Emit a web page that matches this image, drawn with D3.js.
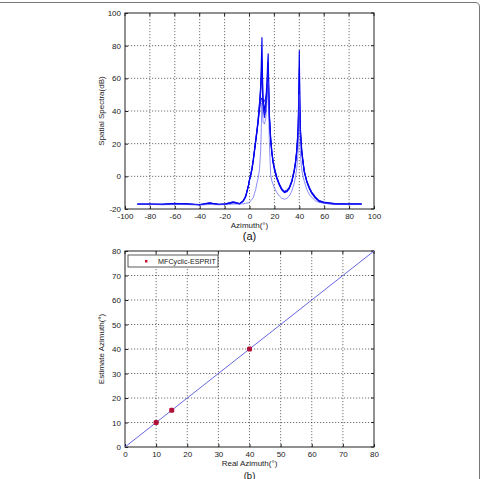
<!DOCTYPE html>
<html><head><meta charset="utf-8">
<script src="https://cdn.jsdelivr.net/npm/d3@7"></script>
<style>body{margin:0;background:#fff}svg{display:block}text{font-family:"Liberation Sans",Arial,sans-serif}</style>
</head><body>
<script>
// ---- Data (a): spatial spectra, several Monte-Carlo trials ----
const azimuth = [-90,-80,-70,-60,-50,-40,-32,-25,-20,-13,-8,-5,-3,-1,0,1,2,3,4,5,6,7,8,9,9.5,10,10.5,11,12,13,14,14.5,15,15.5,16,17,18,19,20,22,24,26,28,30,32,34,36,37,38,39,39.5,40,40.5,41,42,43,44,46,48,50,53,56,60,65,70,80,90];
const trial1 = [-17,-17,-17.2,-16.6,-16.9,-17.4,-16.3,-17.2,-17,-15.8,-16.8,-15,-12,-6,-2,1,5,10,16,22,28,35,44,56,70,85,60,48,40,45,58,68,75,55,38,24,15,9,5,-1,-5,-8,-9.5,-9,-7,-3,4,9,16,30,48,77,45,28,16,9,3,-3,-7,-10,-13,-15,-16,-16.5,-17,-17,-17];
const trial2 = [-17.2,-17.1,-17,-16.8,-17,-17.2,-16.6,-17,-17.1,-16,-16.6,-15.2,-12.5,-6.5,-2.5,0.5,4,9,15,21,27,34,42,52,62,70,50,42,36,40,50,58,64,48,35,22,14,8,4,-1.5,-5.5,-8.5,-10,-9.5,-7.5,-3.5,3,8,15,26,40,66,38,25,14,8,2.5,-3.5,-7.5,-10.5,-13.5,-15.5,-16.3,-16.8,-17,-17,-17];
const trial3 = [-17,-17.2,-17.1,-16.5,-17.1,-17.3,-16.1,-17.3,-16.9,-15.5,-16.7,-14.8,-11.8,-5.8,-1.8,1.2,5.5,10.5,16.5,23,29,36,45,54,60,62,48,44,38,43,55,62,70,52,37,23,15,9,5.5,-0.5,-4.5,-7.5,-9,-8.5,-6.5,-2.5,4.5,9.5,17,28,42,55,40,27,15.5,9.5,3.5,-2.5,-6.5,-9.5,-12.5,-14.8,-15.8,-16.2,-16.8,-17,-17];
const trial4 = [-17.1,-17,-17.3,-16.9,-16.8,-17.5,-16.4,-17.1,-17.2,-16.1,-16.9,-15.3,-12.2,-6.2,-2.2,0.8,4.5,9.5,15.5,21.5,27.5,33,40,46,48,47,44,45,46,48,52,55,58,47,34,21,13.5,8,4.5,-1.2,-5.2,-8.2,-9.8,-9.2,-7.2,-3.2,3.5,8.5,15.5,25,35,45,36,24,14.5,8.5,2.8,-3.2,-7.2,-10.2,-13.2,-15.2,-16.1,-16.6,-17,-17,-17];
const trial5 = [-17.2,-17.2,-17.4,-17.2,-17.3,-17.6,-17.2,-17.4,-17.3,-17,-17,-16.8,-16.5,-16.2,-16,-15,-14,-13,-10.5,-8,-4,-1,4,16,30,45,38,33,32,35,45,52,58,35,20,1,-3,-5,-7,-10,-12,-13.5,-14,-13.5,-12,-9,-4,0,5,15,28,50,25,12,4,0,-3,-8,-11,-13,-15,-16,-16.5,-17,-17.2,-17.2,-17.2];
const spectra = [trial1, trial2, trial3, trial4, trial5];
const xTicksA = [-100,-80,-60,-40,-20,0,20,40,60,80,100];
const yTicksA = [-20,0,20,40,60,80,100];

// ---- Data (b): estimated vs real azimuth ----
const realAz = [10, 15, 40];
const estAz = [10, 15, 40];
const refLine = [0, 80];
const ticksB = [0,10,20,30,40,50,60,70,80];

const W = 481, H = 479;
const svg = d3.select("body").append("svg").attr("width", W).attr("height", H);

// figure frame
svg.append("path")
  .attr("d", "M0,2.5 H475 Q479.5,2.5 479.5,7 V479")
  .attr("fill", "none").attr("stroke", "#777").attr("stroke-width", 1);

function panel(opts) {
  const {x0, x1, y0, y1, xDom, yDom, xTicks, yTicks} = opts;
  const x = d3.scaleLinear().domain(xDom).range([x0, x1]);
  const y = d3.scaleLinear().domain(yDom).range([y1, y0]);
  const g = svg.append("g");
  // grid
  g.append("g").selectAll("line").data(xTicks.slice(1, -1)).join("line")
    .attr("x1", d => x(d)).attr("x2", d => x(d)).attr("y1", y0).attr("y2", y1)
    .attr("stroke", "#333").attr("stroke-width", 0.7).attr("stroke-dasharray", "1.2,1.8");
  g.append("g").selectAll("line").data(yTicks.slice(1, -1)).join("line")
    .attr("y1", d => y(d)).attr("y2", d => y(d)).attr("x1", x0).attr("x2", x1)
    .attr("stroke", "#333").attr("stroke-width", 0.7).attr("stroke-dasharray", "1.2,1.8");
  const fmt = d => String(d);
  // axes
  const ax = g.append("g").attr("transform", `translate(0,${y1})`)
    .call(d3.axisBottom(x).tickValues(xTicks).tickFormat(fmt).tickSize(-3).tickPadding(4));
  const ay = g.append("g").attr("transform", `translate(${x0},0)`)
    .call(d3.axisLeft(y).tickValues(yTicks).tickFormat(fmt).tickSize(-3).tickPadding(4));
  [ax, ay].forEach(a => {
    a.select(".domain").remove();
    a.selectAll("text").attr("font-size", 8).attr("fill", "#222")
      .attr("font-family", "'Liberation Sans',Arial,sans-serif");
    a.selectAll("line").attr("stroke", "#222");
  });
  // top / right ticks
  g.append("g").selectAll("line").data(xTicks).join("line")
    .attr("x1", d => x(d)).attr("x2", d => x(d)).attr("y1", y0).attr("y2", y0 + 3).attr("stroke", "#222");
  g.append("g").selectAll("line").data(yTicks).join("line")
    .attr("y1", d => y(d)).attr("y2", d => y(d)).attr("x1", x1).attr("x2", x1 - 3).attr("stroke", "#222");
  g.append("rect").attr("x", x0).attr("y", y0).attr("width", x1 - x0).attr("height", y1 - y0)
    .attr("fill", "none").attr("stroke", "#222").attr("stroke-width", 1);
  return {x, y, g};
}

// ---- Panel (a) ----
const A = panel({x0: 125, x1: 374, y0: 13, y1: 209, xDom: [-100, 100], yDom: [-20, 100], xTicks: xTicksA, yTicks: yTicksA});
const lineA = d3.line().x((d, i) => A.x(azimuth[i])).y(d => A.y(d));
svg.append("clipPath").attr("id", "ca").append("rect").attr("x", 125).attr("y", 13).attr("width", 249).attr("height", 196);
const styles = [
  {c: "#0000ee", w: 1.1, o: 1},
  {c: "#0000ee", w: 1.1, o: 0.9},
  {c: "#1010f0", w: 1.0, o: 0.9},
  {c: "#0000ee", w: 1.0, o: 0.85},
  {c: "#4a4af5", w: 0.8, o: 0.8}
];
A.g.append("g").attr("clip-path", "url(#ca)").selectAll("path").data(spectra).join("path")
  .attr("d", d => lineA(d)).attr("fill", "none")
  .attr("stroke", (d, i) => styles[i].c).attr("stroke-width", (d, i) => styles[i].w)
  .attr("stroke-opacity", (d, i) => styles[i].o).attr("stroke-linejoin", "round");
svg.append("text").attr("x", 249.5).attr("y", 228).attr("text-anchor", "middle").attr("font-size", 8).attr("fill", "#222").text("Azimuth(°)");
svg.append("text").attr("transform", "translate(104,111) rotate(-90)").attr("text-anchor", "middle").attr("font-size", 8).attr("fill", "#222").text("Spatial Spectra(dB)");
svg.append("text").attr("x", 249.5).attr("y", 240).attr("text-anchor", "middle").attr("font-size", 11).attr("fill", "#111").attr("font-family", "'Liberation Serif',serif").text("(a)");

// ---- Panel (b) ----
const B = panel({x0: 125, x1: 374, y0: 251, y1: 447, xDom: [0, 80], yDom: [0, 80], xTicks: ticksB, yTicks: ticksB});
B.g.append("line").attr("x1", B.x(refLine[0])).attr("y1", B.y(refLine[0])).attr("x2", B.x(refLine[1])).attr("y2", B.y(refLine[1]))
  .attr("stroke", "#5555dd").attr("stroke-width", 0.9);
B.g.append("g").selectAll("rect").data(realAz).join("rect")
  .attr("x", (d) => B.x(d) - 2.5).attr("y", (d, i) => B.y(estAz[i]) - 2.5).attr("width", 5).attr("height", 5).attr("rx", 1.5)
  .attr("fill", "#b0103a");
// legend
B.g.append("rect").attr("x", 128).attr("y", 255).attr("width", 90).attr("height", 12).attr("fill", "#fff").attr("stroke", "#333").attr("stroke-width", 0.8);
B.g.append("rect").attr("x", 145).attr("y", 260).attr("width", 2.5).attr("height", 2.5).attr("fill", "#d01030");
B.g.append("text").attr("x", 158).attr("y", 264.3).attr("font-size", 7.2).attr("fill", "#222").text("MFCyclic-ESPRIT");
svg.append("text").attr("x", 249.5).attr("y", 466).attr("text-anchor", "middle").attr("font-size", 8).attr("fill", "#222").text("Real Azimuth(°)");
svg.append("text").attr("transform", "translate(104,349) rotate(-90)").attr("text-anchor", "middle").attr("font-size", 8).attr("fill", "#222").text("Estimate Azimuth(°)");
svg.append("text").attr("x", 249.5).attr("y", 478.5).attr("text-anchor", "middle").attr("font-size", 9.5).attr("fill", "#111").attr("font-family", "'Liberation Serif',serif").text("(b)");
</script>
</body></html>
